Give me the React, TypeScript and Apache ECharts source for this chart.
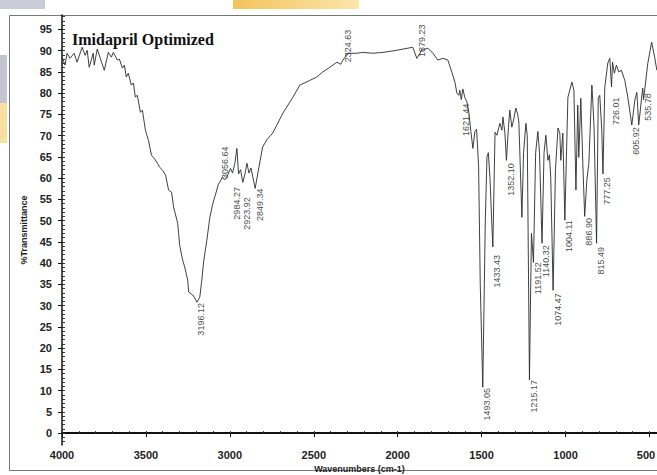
import React, { useEffect, useRef } from "react";
import * as echarts from "echarts";

const wavenumbers = [
  4000, 3982, 3970, 3952, 3928, 3910, 3880, 3862, 3850, 3838, 3814, 3808, 3790, 3772, 3748, 3724, 3706, 3694, 3670, 3658,
  3640, 3628, 3617, 3605, 3587, 3575, 3563, 3551, 3533, 3521, 3503, 3485, 3467, 3455, 3431, 3419, 3401, 3383, 3365, 3347,
  3335, 3311, 3305, 3299, 3281, 3269, 3251, 3245, 3221, 3209, 3196, 3179, 3167, 3155, 3137, 3119, 3101, 3083, 3068, 3056,
  3045, 3030, 3012, 2996, 2984, 2970, 2958, 2948, 2936, 2923, 2910, 2898, 2886, 2874, 2849, 2833, 2805, 2780, 2745, 2720,
  2684, 2625, 2583, 2524, 2482, 2446, 2404, 2362, 2340, 2326, 2297, 2243, 2207, 2148, 2088, 2005, 1939, 1910, 1886, 1856,
  1820, 1790, 1761, 1731, 1701, 1677, 1659, 1647, 1636, 1630, 1621, 1612, 1600, 1588, 1576, 1564, 1552, 1540, 1530, 1518,
  1508, 1493, 1478, 1468, 1460, 1450, 1440, 1433, 1420, 1409, 1397, 1391, 1379, 1373, 1361, 1352, 1340, 1332, 1320, 1308,
  1296, 1285, 1278, 1260, 1250, 1236, 1228, 1215, 1203, 1191, 1178, 1165, 1155, 1140, 1128, 1117, 1105, 1096, 1088, 1074,
  1060, 1045, 1034, 1028, 1016, 1004, 986, 962, 950, 938, 927, 921, 909, 897, 886, 873, 861, 843, 837, 830,
  815, 805, 796, 784, 777, 766, 748, 736, 726, 720, 709, 697, 683, 667, 647, 629, 605, 587, 575, 564,
  546, 540, 535, 510, 487, 469, 456,
];

const transmittance = [
  88.5, 86.6, 89.4, 88.2, 89.4, 87.3, 90.8, 88.9, 90.1, 86.1, 89.4, 86.6, 90.4, 88.2, 85.4, 89.6, 88.5, 89.6, 87.8, 88.0,
  85.9, 86.6, 83.8, 84.7, 81.9, 82.4, 79.1, 79.5, 75.5, 76.0, 71.3, 68.9, 65.4, 64.9, 63.5, 62.6, 61.9, 60.7, 57.2, 56.7,
  53.2, 49.4, 47.0, 44.2, 40.7, 39.1, 36.0, 33.2, 32.5, 31.8, 30.8, 32.0, 36.0, 40.7, 45.4, 50.8, 54.1, 56.5, 58.6, 59.3,
  60.2, 59.6, 60.8, 62.3, 61.2, 63.5, 67.0, 61.0, 62.0, 59.0, 61.0, 63.5, 61.2, 62.4, 57.6, 61.2, 67.3, 69.0, 70.6, 72.5,
  75.3, 79.0, 81.9, 83.0, 83.8, 85.0, 86.1, 87.3, 86.8, 87.8, 89.4, 89.4, 89.6, 89.4, 89.6, 90.1, 90.6, 90.8, 88.2, 90.1,
  90.6, 89.4, 87.8, 88.2, 87.8, 84.9, 82.6, 80.0, 79.5, 80.7, 78.5, 81.0, 79.0, 78.0, 75.5, 71.0, 67.0, 71.0, 71.5, 63.0,
  35.0, 10.8, 50.0, 65.0, 66.0, 60.0, 50.0, 43.8, 70.8, 70.1, 72.0, 72.9, 71.3, 74.4, 70.6, 64.2, 72.0, 76.0, 72.0, 74.0,
  76.5, 75.0, 73.2, 50.8, 66.0, 72.9, 70.0, 12.5, 47.0, 40.2, 66.0, 71.0, 66.0, 44.7, 66.0, 70.1, 64.2, 65.5, 60.0, 33.6,
  62.0, 71.8, 70.6, 64.2, 70.6, 50.1, 79.0, 82.6, 80.7, 57.2, 77.2, 64.9, 78.8, 63.5, 51.0, 59.5, 63.5, 81.9, 77.6, 72.0,
  44.7, 78.8, 79.5, 71.3, 61.0, 81.4, 87.1, 88.2, 81.5, 87.3, 84.7, 86.6, 85.0, 85.4, 83.0, 79.1, 72.5, 78.4, 80.2, 72.5,
  79.1, 81.2, 78.5, 87.0, 92.0, 88.5, 85.4,
];

const peakLabels = [
  "3196.12", "3056.64", "2984.27", "2923.92", "2849.34", "2324.63", "1879.23", "1621.44", "1493.05", "1433.43", "1352.10",
  "1215.17", "1191.52", "1140.32", "1074.47", "1004.11", "886.90", "815.49", "777.25", "726.01", "605.92", "535.78",
];
const peakLabelT = [
  30.6, 59.8, 57.9, 55.5, 57.6, 87.3, 88.5, 77.6, 10.6, 41.9, 63.5,
  12.5, 40.2, 44.2, 32.9, 50.1, 50.6, 43.8, 60.2, 79.0, 72.0, 80.0,
];
const labelsAbove = ["3056.64", "2324.63", "1879.23"];

const yTickValues = [0, 5, 10, 15, 20, 25, 30, 35, 40, 45, 50, 55, 60, 65, 70, 75, 80, 85, 90, 95];
const xTickValues = [4000, 3500, 3000, 2500, 2000, 1500, 1000, 500];

const Y_MIN = -2.8;
const Y_MAX = 98.4;
const X_MIN = 455;
const X_MAX = 4000;

export default function App() {
  const ref = useRef<HTMLDivElement>(null);
  useEffect(() => {
    if (!ref.current) return;
    const chart = echarts.init(ref.current, undefined, { renderer: "svg" });

    const yMinor: number[] = [];
    for (let v = -2; v <= 98; v += 1) yMinor.push(v);
    const xMinor: number[] = [];
    for (let v = 500; v <= 4000; v += 100) xMinor.push(v);

    const sans = "Liberation Sans";
    const labelData = peakLabels.map((txt, i) => {
      const above = labelsAbove.indexOf(txt) >= 0;
      return {
        value: [parseFloat(txt), peakLabelT[i]],
        label: {
          show: true,
          formatter: txt,
          position: [1, 1],
          rotate: 90,
          align: above ? "left" : "right",
          verticalAlign: "top",
          fontSize: 9,
          fontFamily: sans,
          color: "#111",
        },
      };
    });

    const tickFont = { fontFamily: sans, fontWeight: "bold", fontSize: 11, color: "#222" };

    chart.setOption({
      animation: false,
      backgroundColor: "#ffffff",
      grid: { left: 62, right: 0, top: 15, bottom: 30, containLabel: false, outerBoundsMode: "none" },
      xAxis: [
        {
          type: "value",
          inverse: true,
          min: X_MIN,
          max: X_MAX,
          name: "Wavenumbers (cm-1)",
          nameLocation: "middle",
          nameGap: 15,
          nameTextStyle: { fontFamily: sans, fontWeight: "bold", fontSize: 9, color: "#222" },
          axisLine: { show: true, lineStyle: { color: "#111", width: 2 } },
          axisTick: { show: true, length: 4, customValues: xTickValues, lineStyle: { color: "#111" } },
          axisLabel: {
            customValues: xTickValues,
            formatter: (v: number) => (v === 500 ? "{edge|500}" : "{n|" + String(v) + "}"),
            rich: {
              n: { ...tickFont },
              edge: { ...tickFont, padding: [0, 7, 0, 0] },
            },
            ...tickFont,
            margin: 4,
          },
          splitLine: { show: false },
        },
        {
          type: "value",
          inverse: true,
          min: X_MIN,
          max: X_MAX,
          position: "bottom",
          axisLine: { show: false },
          axisTick: { show: true, inside: true, length: 2, customValues: xMinor, lineStyle: { color: "#333" } },
          axisLabel: { show: false },
          splitLine: { show: false },
        },
      ],
      yAxis: [
        {
          type: "value",
          min: Y_MIN,
          max: Y_MAX,
          name: "%Transmittance",
          nameLocation: "middle",
          nameGap: 28,
          nameRotate: 90,
          nameTextStyle: { fontFamily: sans, fontWeight: "bold", fontSize: 9, color: "#222" },
          axisLine: { show: true, lineStyle: { color: "#111", width: 1.5 } },
          axisTick: { show: true, length: 4, customValues: yTickValues, lineStyle: { color: "#111" } },
          axisLabel: {
            customValues: yTickValues,
            formatter: (v: number) => String(v),
            ...tickFont,
            margin: 10,
          },
          splitLine: { show: false },
        },
        {
          type: "value",
          min: Y_MIN,
          max: Y_MAX,
          position: "left",
          axisLine: { show: false },
          axisTick: { show: true, inside: true, length: 3, customValues: yMinor, lineStyle: { color: "#333" } },
          axisLabel: { show: false },
          splitLine: { show: false },
        },
      ],
      graphic: [
        {
          type: "rect",
          shape: { x: 0, y: 0, width: 45, height: 9 },
          style: { fill: "#c9ccd6" },
          silent: true,
          z: -10,
        },
        {
          type: "rect",
          shape: { x: 233, y: 0, width: 126, height: 9 },
          style: {
            fill: new echarts.graphic.LinearGradient(0, 0, 1, 0, [
              { offset: 0, color: "#f3c35a" },
              { offset: 1, color: "#fbe6ab" },
            ]),
          },
          silent: true,
          z: -10,
        },
        {
          type: "rect",
          shape: { x: 0, y: 55, width: 7, height: 48 },
          style: { fill: "#c3c6d0" },
          silent: true,
          z: -10,
        },
        {
          type: "rect",
          shape: { x: 0, y: 103, width: 7, height: 40 },
          style: { fill: "#f7dfa0" },
          silent: true,
          z: -10,
        },
        {
          type: "rect",
          shape: { x: 9.5, y: 15.5, width: 660, height: 455 },
          style: { fill: "none", stroke: "#777", lineWidth: 1 },
          silent: true,
        },
        {
          type: "text",
          left: 72,
          top: 31,
          style: {
            text: "Imidapril Optimized",
            font: 'bold 16px "Liberation Serif"',
            fill: "#111",
          },
        },
      ],
      series: [
        {
          type: "line",
          xAxisIndex: 0,
          yAxisIndex: 0,
          data: wavenumbers.map((w, i) => [w, transmittance[i]]),
          showSymbol: false,
          symbol: "none",
          smooth: false,
          lineStyle: { color: "#2a2a2a", width: 0.9 },
          silent: true,
        },
        {
          type: "scatter",
          xAxisIndex: 0,
          yAxisIndex: 0,
          symbolSize: 2,
          itemStyle: { color: "rgba(0,0,0,0)" },
          data: labelData,
          silent: true,
        },
      ],
    });
    return () => chart.dispose();
  }, []);

  return (
    <div
      ref={ref}
      style={{ position: "fixed", left: 0, top: 0, width: 657, height: 475, background: "#fff" }}
    />
  );
}
